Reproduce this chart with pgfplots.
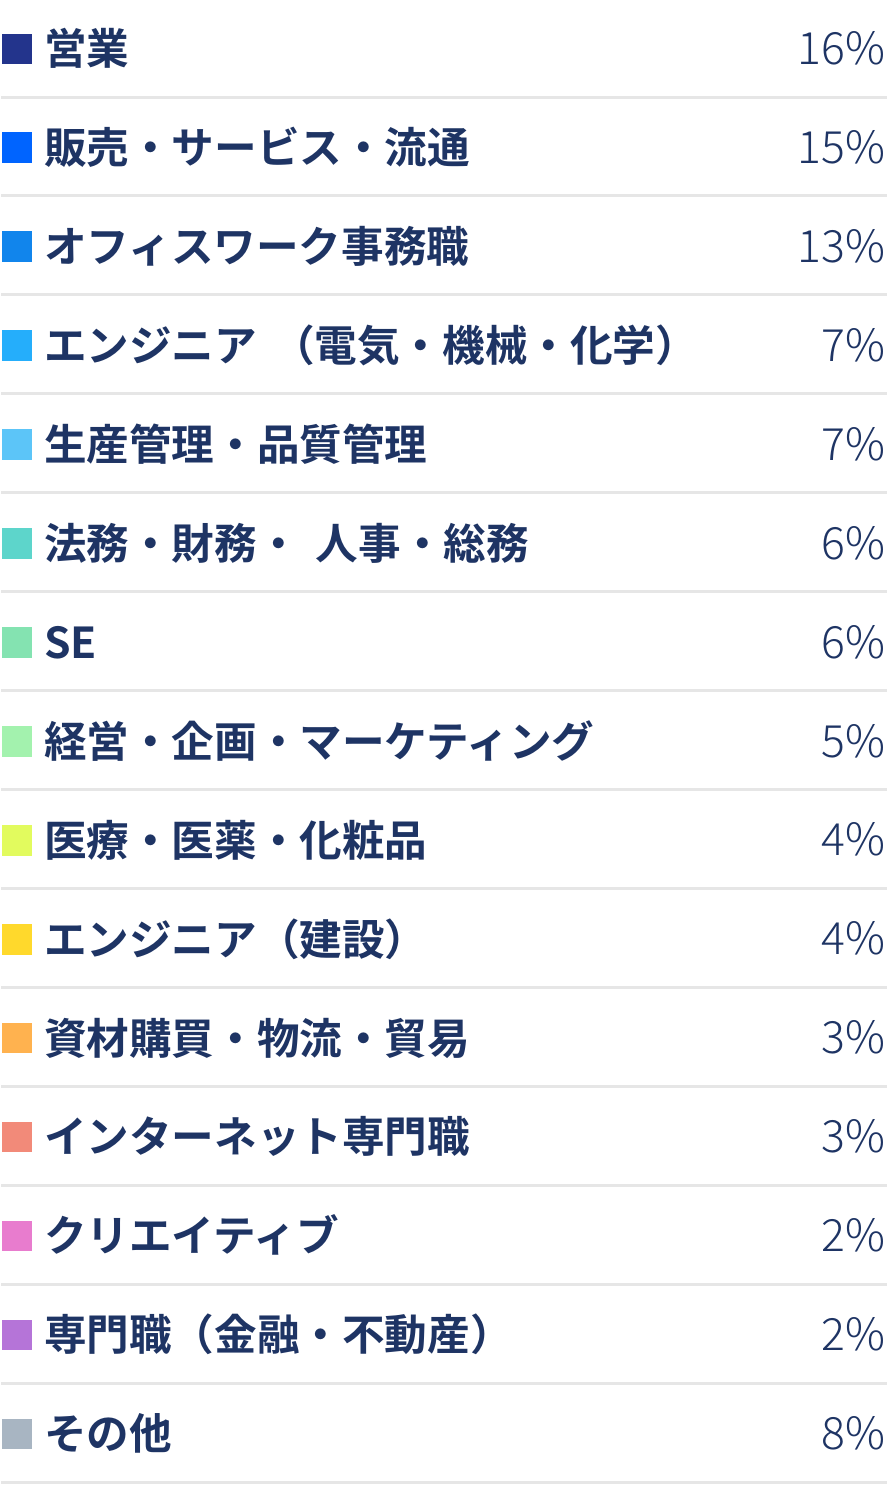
\documentclass[border=0pt]{standalone}
\usepackage{fontspec}
\setmainfont{Noto Sans CJK JP}[BoldFont={* Bold}]
\newfontfamily\pctfont{Noto Sans CJK JP Light}
\usepackage{pgfplots}
\pgfplotsset{compat=1.18}
\usepackage{pgfplotstable}
\definecolor{txt}{HTML}{1E3464}
\definecolor{sepc}{HTML}{E6E6E6}
\definecolor{c1}{HTML}{23348C}
\definecolor{c2}{HTML}{0064FF}
\definecolor{c3}{HTML}{1185EC}
\definecolor{c4}{HTML}{25AEFB}
\definecolor{c5}{HTML}{5CC5F8}
\definecolor{c6}{HTML}{5DD5CB}
\definecolor{c7}{HTML}{84E3B1}
\definecolor{c8}{HTML}{A3F2AE}
\definecolor{c9}{HTML}{E2FB5E}
\definecolor{c10}{HTML}{FFD92C}
\definecolor{c11}{HTML}{FFB24F}
\definecolor{c12}{HTML}{F28A79}
\definecolor{c13}{HTML}{E87CCE}
\definecolor{c14}{HTML}{B574D8}
\definecolor{c15}{HTML}{A8B5C2}

\pgfplotstableread[col sep=comma]{
y,pct,cls,label
48.5,16,a,営業
147.4,15,b,販売・サービス・流通
246.4,13,c,オフィスワーク事務職
345.3,7,d,エンジニア\hspace{0.35em}（電気・機械・化学）
444.2,7,e,生産管理・品質管理
543.2,6,f,法務・財務・\hspace{0.38em}人事・総務
642.1,6,g,SE
741.0,5,h,経営・企画・マーケティング
839.9,4,i,医療・医薬・化粧品
938.9,4,j,エンジニア（建設）
1037.8,3,k,資材購買・物流・貿易
1136.7,3,l,インターネット専門職
1235.7,2,m,クリエイティブ
1334.6,2,n,専門職（金融・不動産）
1433.5,8,o,その他
}\datatable

\pgfplotstableread{
x y
885 97
885 195.9
885 294.9
885 393.8
885 492.7
885 591.7
885 690.6
885 789.5
885 888.4
885 987.4
885 1086.3
885 1185.2
885 1284.2
885 1383.1
885 1482
}\septable

\begin{document}
\begin{tikzpicture}
\begin{axis}[
  width=885bp, height=1485bp, scale only axis,
  xmin=0, xmax=885, ymin=0, ymax=1485, y dir=reverse,
  hide axis, clip=false]
\path (rel axis cs:0,0) rectangle (rel axis cs:1,1);
\addplot[xcomb, color=sepc, line width=3bp, mark=none] table[x=x,y=y]{\septable};
\addplot[scatter, only marks, mark=square*, mark size=14.8bp,
  scatter src=explicit symbolic,
  scatter/classes={a={c1},b={c2},c={c3},d={c4},e={c5},f={c6},g={c7},h={c8},
    i={c9},j={c10},k={c11},l={c12},m={c13},n={c14},o={c15}}]
  table[x expr=15, y=y, meta=cls]{\datatable};
\addplot[draw=none, mark=none, point meta=explicit symbolic,
  nodes near coords={\pgfplotspointmeta},
  nodes near coords style={anchor=west, inner sep=0pt,
    font=\fontsize{42.6bp}{50bp}\selectfont\bfseries, text=txt,
    text height=36.5bp, text depth=4bp}]
  table[x expr=42.5, y=y, meta=label]{\datatable};
\addplot[draw=none, mark=none, point meta=explicit symbolic,
  nodes near coords={\pgfplotspointmeta\%},
  nodes near coords style={anchor=east, inner sep=0pt,
    font=\fontsize{44.5bp}{52bp}\selectfont\pctfont, text=txt,
    text height=36bp, text depth=4bp}]
  table[x expr=884, y=y, meta=pct]{\datatable};
\end{axis}
\end{tikzpicture}
\end{document}
